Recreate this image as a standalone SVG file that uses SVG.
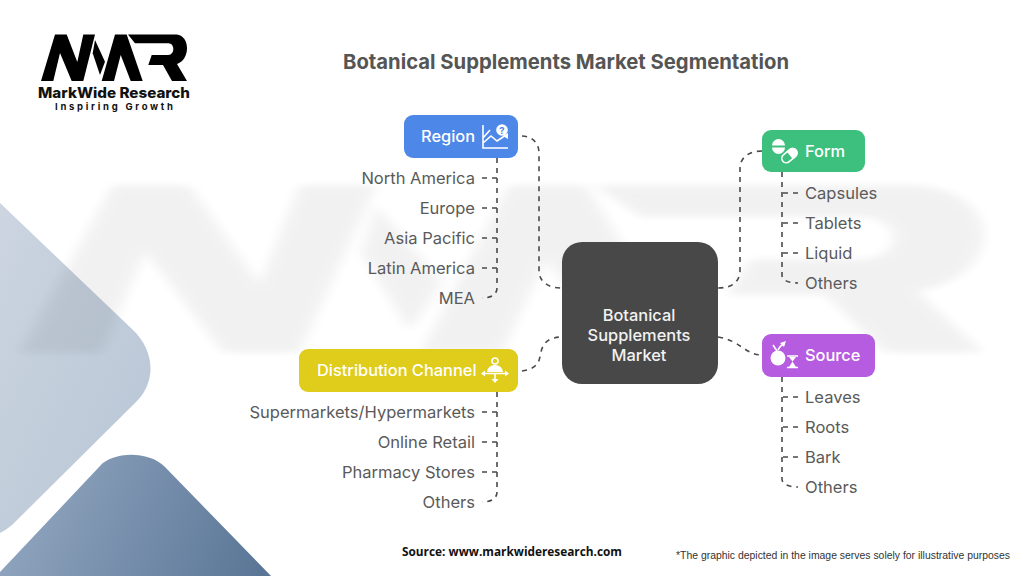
<svg xmlns="http://www.w3.org/2000/svg" xmlns:xlink="http://www.w3.org/1999/xlink" width="1024" height="576" viewBox="0 0 1024 576">
<style>
.t{font-family:Inter,Roboto,"Liberation Sans",sans-serif}
.title{font-size:20.4px;font-weight:700;fill:#555}
.nl{font-size:16.4px;font-weight:500;fill:#fff}
.ct{font-size:16.4px;font-weight:500;fill:#f2f2f2;text-anchor:middle}
.li{font-size:16.55px;fill:#5a5a5a}
.e{text-anchor:end}
.c{stroke:#4a4a4a;stroke-width:1.6;stroke-dasharray:5 5;fill:none}
.ic{fill:#fff}
.is{stroke:#fff;stroke-width:1.6;fill:none}
</style>
<defs>
<linearGradient id="g1" x1="0" y1="0" x2="1" y2="1"><stop offset="0" stop-color="#ccd5e0"/><stop offset="1" stop-color="#b7c5d5"/></linearGradient>
<linearGradient id="g2" gradientUnits="userSpaceOnUse" x1="30" y1="480" x2="260" y2="576"><stop offset="0" stop-color="#8fa4be"/><stop offset="1" stop-color="#5a7696"/></linearGradient>
<filter id="soft" x="-2%" y="-5%" width="104%" height="110%"><feGaussianBlur stdDeviation="1"/></filter>
<g id="logo">
<path d="M41,81 L55,34.500 L66.700,34.500 L77.300,62 L83.300,34.500 L95,34.500 L83.300,81 L71.700,81 L60,53 L53.300,81Z"/>
<path d="M95,40 L105,61.700 L100,75 L92.700,53.300Z"/>
<path d="M101.700,81 L115,34.500 L126.700,34.500 L142.700,81 L130.700,81 L120.700,55 L114,81Z"/>
<path d="M128,34.500 L176.700,34.500 C183,35 187,41 187,48 C187,56 183,62 177,64 L187,81 L172,81 L163,65 L148.300,65 L151.700,55 L168.300,55 C175,55 175,43.300 168.300,43.300 L135,43.300Z"/>
</g>
</defs>
<rect width="1024" height="576" fill="#fff"/>
<g id="backdrop">
<path d="M0,203 L133,330 C156,352 156,384 135,403 L12,525 Q6,530 0,533Z" fill="url(#g1)"/>
<path d="M0,572 L100,466 C112,452 148,450 165,467 L271,576 L0,576Z" fill="url(#g2)"/>
<use xlink:href="#logo" transform="translate(-250.6,61) scale(6.6,3.6)" fill="#000" opacity="0.05" filter="url(#soft)"/>
</g>
<g id="brand">
<use xlink:href="#logo" fill="#000"/>
<text class="t" x="38" y="98" font-size="14.500" font-weight="800" fill="#111" textLength="152" lengthAdjust="spacingAndGlyphs">MarkWide Research</text>
<text class="t" x="55" y="109.500" font-size="9.500" font-weight="700" fill="#111" textLength="118">Inspiring Growth</text>
</g>
<text id="title" class="t title" x="343" y="69" textLength="446" lengthAdjust="spacingAndGlyphs">Botanical Supplements Market Segmentation</text>
<g id="connectors">
<path class="c" d="M522,136 C532,136 539,143 539,153 L539,270 C539,282 548,288 562,288"/>
<path class="c" d="M762,151 C750,151 740,157 740,168 L740,270 C740,282 732,288 718,288"/>
<path class="c" d="M718,337 C740,340 745,355 762,355"/>
<path class="c" d="M522,371 C540,368 539,360 541,352 C543,342 550,337 562,337"/>
<path class="c" d="M497,158 L497,288 C497,294 492,298 482,298"/>
<path class="c" d="M482,178 H497 M482,208 H497 M482,238 H497 M482,268 H497"/>
<path class="c" d="M782,172 L782,275 C782,280 788,283 798,283"/>
<path class="c" d="M798,193 H782 M798,223 H782 M798,253 H782"/>
<path class="c" d="M782,377 L782,479 C782,484 788,487 798,487"/>
<path class="c" d="M798,397 H782 M798,427 H782 M798,457 H782"/>
<path class="c" d="M497,392 L497,492 C497,498 492,502 482,502"/>
<path class="c" d="M482,412 H497 M482,442 H497 M482,472 H497"/>
</g>
<g id="center">
<rect x="562" y="242" width="156" height="142" rx="20" fill="#484848"/>
<text class="t ct" x="639" y="321">Botanical</text>
<text class="t ct" x="639" y="341">Supplements</text>
<text class="t ct" x="639" y="361">Market</text>
</g>
<g id="region">
<rect x="404" y="115" width="114" height="43" rx="9" fill="#4d87e8"/>
<text class="t nl" x="421" y="142">Region</text>
<path class="is" d="M483,125 V148 H508 M483,143 L491,136 L497,141 L506,135 M483,138 L490,130"/>
<path class="ic" d="M508,133 L508,139 L503,136Z"/>
<circle cx="502" cy="130" r="5.800" class="ic"/>
<text class="t" x="502" y="133.500" font-size="9.500" font-weight="700" fill="#4d87e8" text-anchor="middle">?</text>
<text class="t li e" x="475" y="184">North America</text>
<text class="t li e" x="475" y="214">Europe</text>
<text class="t li e" x="475" y="244">Asia Pacific</text>
<text class="t li e" x="475" y="274">Latin America</text>
<text class="t li e" x="475" y="304">MEA</text>
</g>
<g id="form">
<rect x="762" y="130" width="103" height="42" rx="9" fill="#3dbf7d"/>
<text class="t nl" x="805" y="157">Form</text>
<path class="ic" d="M772,145.500 A6.500,6.500 0 0 1 785,145.500Z M772,147.500 H785 A6.500,6.500 0 0 1 772,147.500Z"/>
<g transform="rotate(-40 789 156)"><rect x="781" y="151.500" width="17" height="9" rx="4.500" class="is" stroke-width="2"/><path class="ic" d="M790,151 H794 A5,5 0 0 1 794,161 H790Z"/></g>
<text class="t li" x="805" y="199">Capsules</text>
<text class="t li" x="805" y="229">Tablets</text>
<text class="t li" x="805" y="259">Liquid</text>
<text class="t li" x="805" y="289">Others</text>
</g>
<g id="source">
<rect x="762" y="334" width="113" height="43" rx="9" fill="#b65ce0"/>
<text class="t nl" x="805" y="361">Source</text>
<circle cx="778" cy="358" r="7.500" class="ic"/>
<path class="is" stroke-width="2" d="M777,351 L773,345 M778,350 Q781,344 785,344"/>
<path class="ic" d="M780,343 L786,341 L784,347Z"/>
<path class="is" d="M787,356 H798 M787,367.500 H798"/>
<path class="ic" d="M789,357 H796 L792.500,361.500 L796,367 H789 L792.500,361.500Z"/>
<text class="t li" x="805" y="403">Leaves</text>
<text class="t li" x="805" y="433">Roots</text>
<text class="t li" x="805" y="463">Bark</text>
<text class="t li" x="805" y="493">Others</text>
</g>
<g id="distribution">
<rect x="299" y="349" width="219" height="43" rx="9" fill="#e0cc1a"/>
<text class="t nl" x="317" y="376">Distribution Channel</text>
<circle cx="495" cy="361" r="3" class="is"/>
<path class="ic" d="M487,372 A8,7 0 0 1 503,372Z"/>
<path class="is" d="M483,373.500 H507 M495,373 V381"/>
<path class="ic" d="M481,373.500 L485,370.500 V376.500Z M509,373.500 L505,370.500 V376.500Z M495,383 L491.500,379 H498.500Z"/>
<text class="t li e" x="475" y="418">Supermarkets/Hypermarkets</text>
<text class="t li e" x="475" y="448">Online Retail</text>
<text class="t li e" x="475" y="478">Pharmacy Stores</text>
<text class="t li e" x="475" y="508">Others</text>
</g>
<g id="notes">
<text x="402" y="555.500" font-family="'Open Sans','Liberation Sans',sans-serif" font-size="12.500" font-weight="700" fill="#111" textLength="220" lengthAdjust="spacingAndGlyphs">Source: www.markwideresearch.com</text>
<text x="676" y="559" font-family="'Liberation Sans',sans-serif" font-size="10" fill="#333" textLength="334" lengthAdjust="spacingAndGlyphs">*The graphic depicted in the image serves solely for illustrative purposes</text>
</g>
</svg>
